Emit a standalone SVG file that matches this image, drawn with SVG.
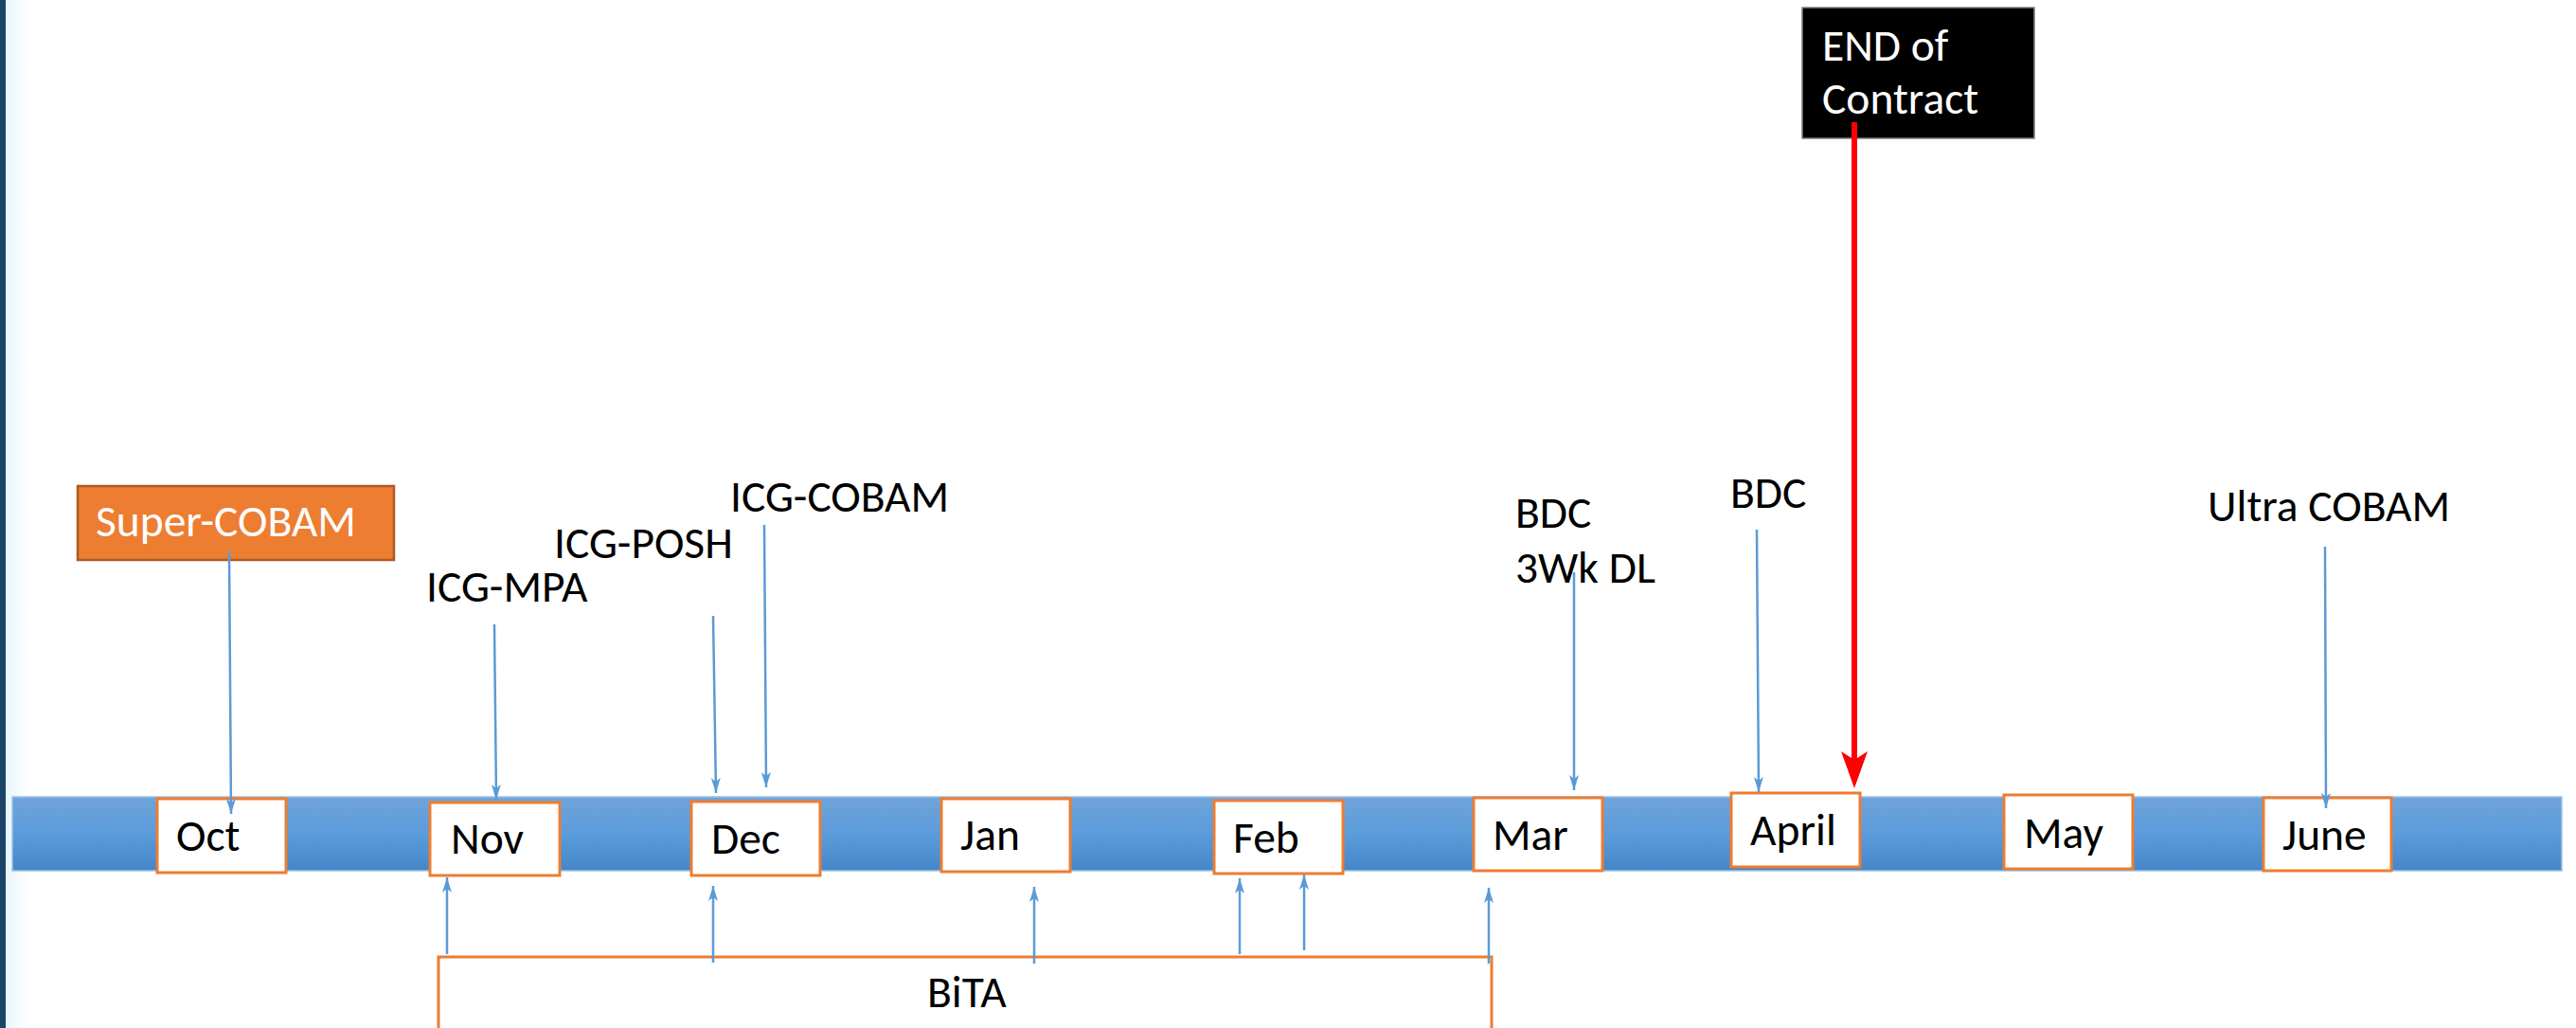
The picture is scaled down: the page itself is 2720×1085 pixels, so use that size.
<svg xmlns="http://www.w3.org/2000/svg" width="2720" height="1085" viewBox="0 0 2720 1085">
  <style>
    .lbl { font-family: Carlito, Lato, "Noto Sans", sans-serif; font-size: 47.5px; fill: #000; }
    .inv { fill: #fff; }
    .month rect { fill: #fff; stroke: #ED7D31; stroke-width: 3; }
    .conn { stroke: #5B9BD5; stroke-width: 2.5; fill: none; marker-end: url(#stealth); }
  </style>
  <defs>
    <linearGradient id="barFill" x1="0" y1="0" x2="0" y2="1">
      <stop offset="0" stop-color="#70A4D9"/>
      <stop offset="0.5" stop-color="#5B9CDB"/>
      <stop offset="1" stop-color="#4486C8"/>
    </linearGradient>
    <linearGradient id="edgeGlow" x1="0" y1="0" x2="1" y2="0">
      <stop offset="0" stop-color="#E6F6FB"/>
      <stop offset="1" stop-color="#FFFFFF"/>
    </linearGradient>
    <marker id="stealth" viewBox="0 0 16 10" refX="16" refY="5" markerWidth="16" markerHeight="10" markerUnits="userSpaceOnUse" orient="auto">
      <path d="M0,0 L16,5 L0,10 L4,5 Z" fill="#5B9BD5"/>
    </marker>
  </defs>

  <!-- page background and left edge band -->
  <rect x="0" y="0" width="2720" height="1085" fill="#fff"/>
  <rect x="6" y="0" width="24" height="1085" fill="url(#edgeGlow)"/>
  <rect x="0" y="0" width="6" height="1085" fill="#1B4468"/>

  <!-- timeline bar -->
  <g id="timeline">
    <rect x="13" y="841" width="2692" height="78" fill="url(#barFill)" stroke="#9DC3E6" stroke-width="1.5"/>
  </g>

  <!-- BiTA span box (runs off the bottom edge) -->
  <g id="bita">
    <rect x="463" y="1010" width="1112" height="120" fill="none" stroke="#ED7D31" stroke-width="3"/>
    <text class="lbl" x="979" y="1063">BiTA</text>
  </g>

  <!-- month boxes -->
  <g id="oct" class="month"><rect x="166" y="843" width="136" height="78"/><text class="lbl" x="186" y="898">Oct</text></g>
  <g id="nov" class="month"><rect x="454" y="847" width="137" height="77"/><text class="lbl" x="476" y="901">Nov</text></g>
  <g id="dec" class="month"><rect x="730" y="846" width="136" height="78"/><text class="lbl" x="751" y="901">Dec</text></g>
  <g id="jan" class="month"><rect x="994" y="843" width="136" height="77"/><text class="lbl" x="1014" y="897">Jan</text></g>
  <g id="feb" class="month"><rect x="1282" y="845" width="136" height="77"/><text class="lbl" x="1302" y="900">Feb</text></g>
  <g id="mar" class="month"><rect x="1556" y="842" width="136" height="77"/><text class="lbl" x="1576" y="897">Mar</text></g>
  <g id="april" class="month"><rect x="1828" y="837" width="136" height="78"/><text class="lbl" x="1848" y="892">April</text></g>
  <g id="may" class="month"><rect x="2116" y="839" width="136" height="78"/><text class="lbl" x="2137" y="895">May</text></g>
  <g id="june" class="month"><rect x="2390" y="842" width="135" height="77"/><text class="lbl" x="2410" y="897">June</text></g>

  <!-- milestone labels -->
  <g id="super-cobam">
    <rect x="82" y="513" width="334" height="78" fill="#ED7D31" stroke="#AE5A21" stroke-width="2.5"/>
    <text class="lbl inv" x="101" y="566">Super-COBAM</text>
  </g>
  <g id="icg-mpa"><text class="lbl" x="450" y="635">ICG-MPA</text></g>
  <g id="icg-posh"><text class="lbl" x="585" y="589">ICG-POSH</text></g>
  <g id="icg-cobam"><text class="lbl" x="771" y="540">ICG-COBAM</text></g>
  <g id="bdc-mar"><text class="lbl" x="1600" y="557">BDC</text><text class="lbl" x="1600" y="615">3Wk DL</text></g>
  <g id="bdc-april"><text class="lbl" x="1827" y="536">BDC</text></g>
  <g id="ultra-cobam"><text class="lbl" x="2331" y="550">Ultra COBAM</text></g>
  <g id="end-of-contract">
    <rect x="1903" y="8" width="245" height="138" fill="#000" stroke="#7F7F7F" stroke-width="1.5"/>
    <text class="lbl inv" x="1924" y="64">END of</text>
    <text class="lbl inv" x="1924" y="120">Contract</text>
  </g>

  <!-- connectors -->
  <g id="connectors">
    <line class="conn" x1="242" y1="582" x2="244" y2="859"/>
    <line class="conn" x1="522" y1="659" x2="524" y2="844"/>
    <line class="conn" x1="753" y1="650" x2="756" y2="837"/>
    <line class="conn" x1="807" y1="554" x2="809" y2="831"/>
    <line class="conn" x1="1662" y1="604" x2="1662" y2="834"/>
    <line class="conn" x1="1855" y1="559" x2="1857" y2="836"/>
    <line class="conn" x1="2455" y1="577" x2="2456" y2="853"/>

    <line class="conn" x1="472" y1="1007" x2="472" y2="926"/>
    <line class="conn" x1="753" y1="1016" x2="753" y2="935"/>
    <line class="conn" x1="1092" y1="1017" x2="1092" y2="936"/>
    <line class="conn" x1="1309" y1="1007" x2="1309" y2="927"/>
    <line class="conn" x1="1377" y1="1003" x2="1377" y2="923"/>
    <line class="conn" x1="1572" y1="1017" x2="1572" y2="937"/>

    <!-- contract end marker -->
    <line x1="1958" y1="129" x2="1958" y2="805" stroke="#FF0000" stroke-width="6"/>
    <path d="M1958,832 L1944,793 L1958,802 L1972,793 Z" fill="#FF0000"/>
  </g>
</svg>
